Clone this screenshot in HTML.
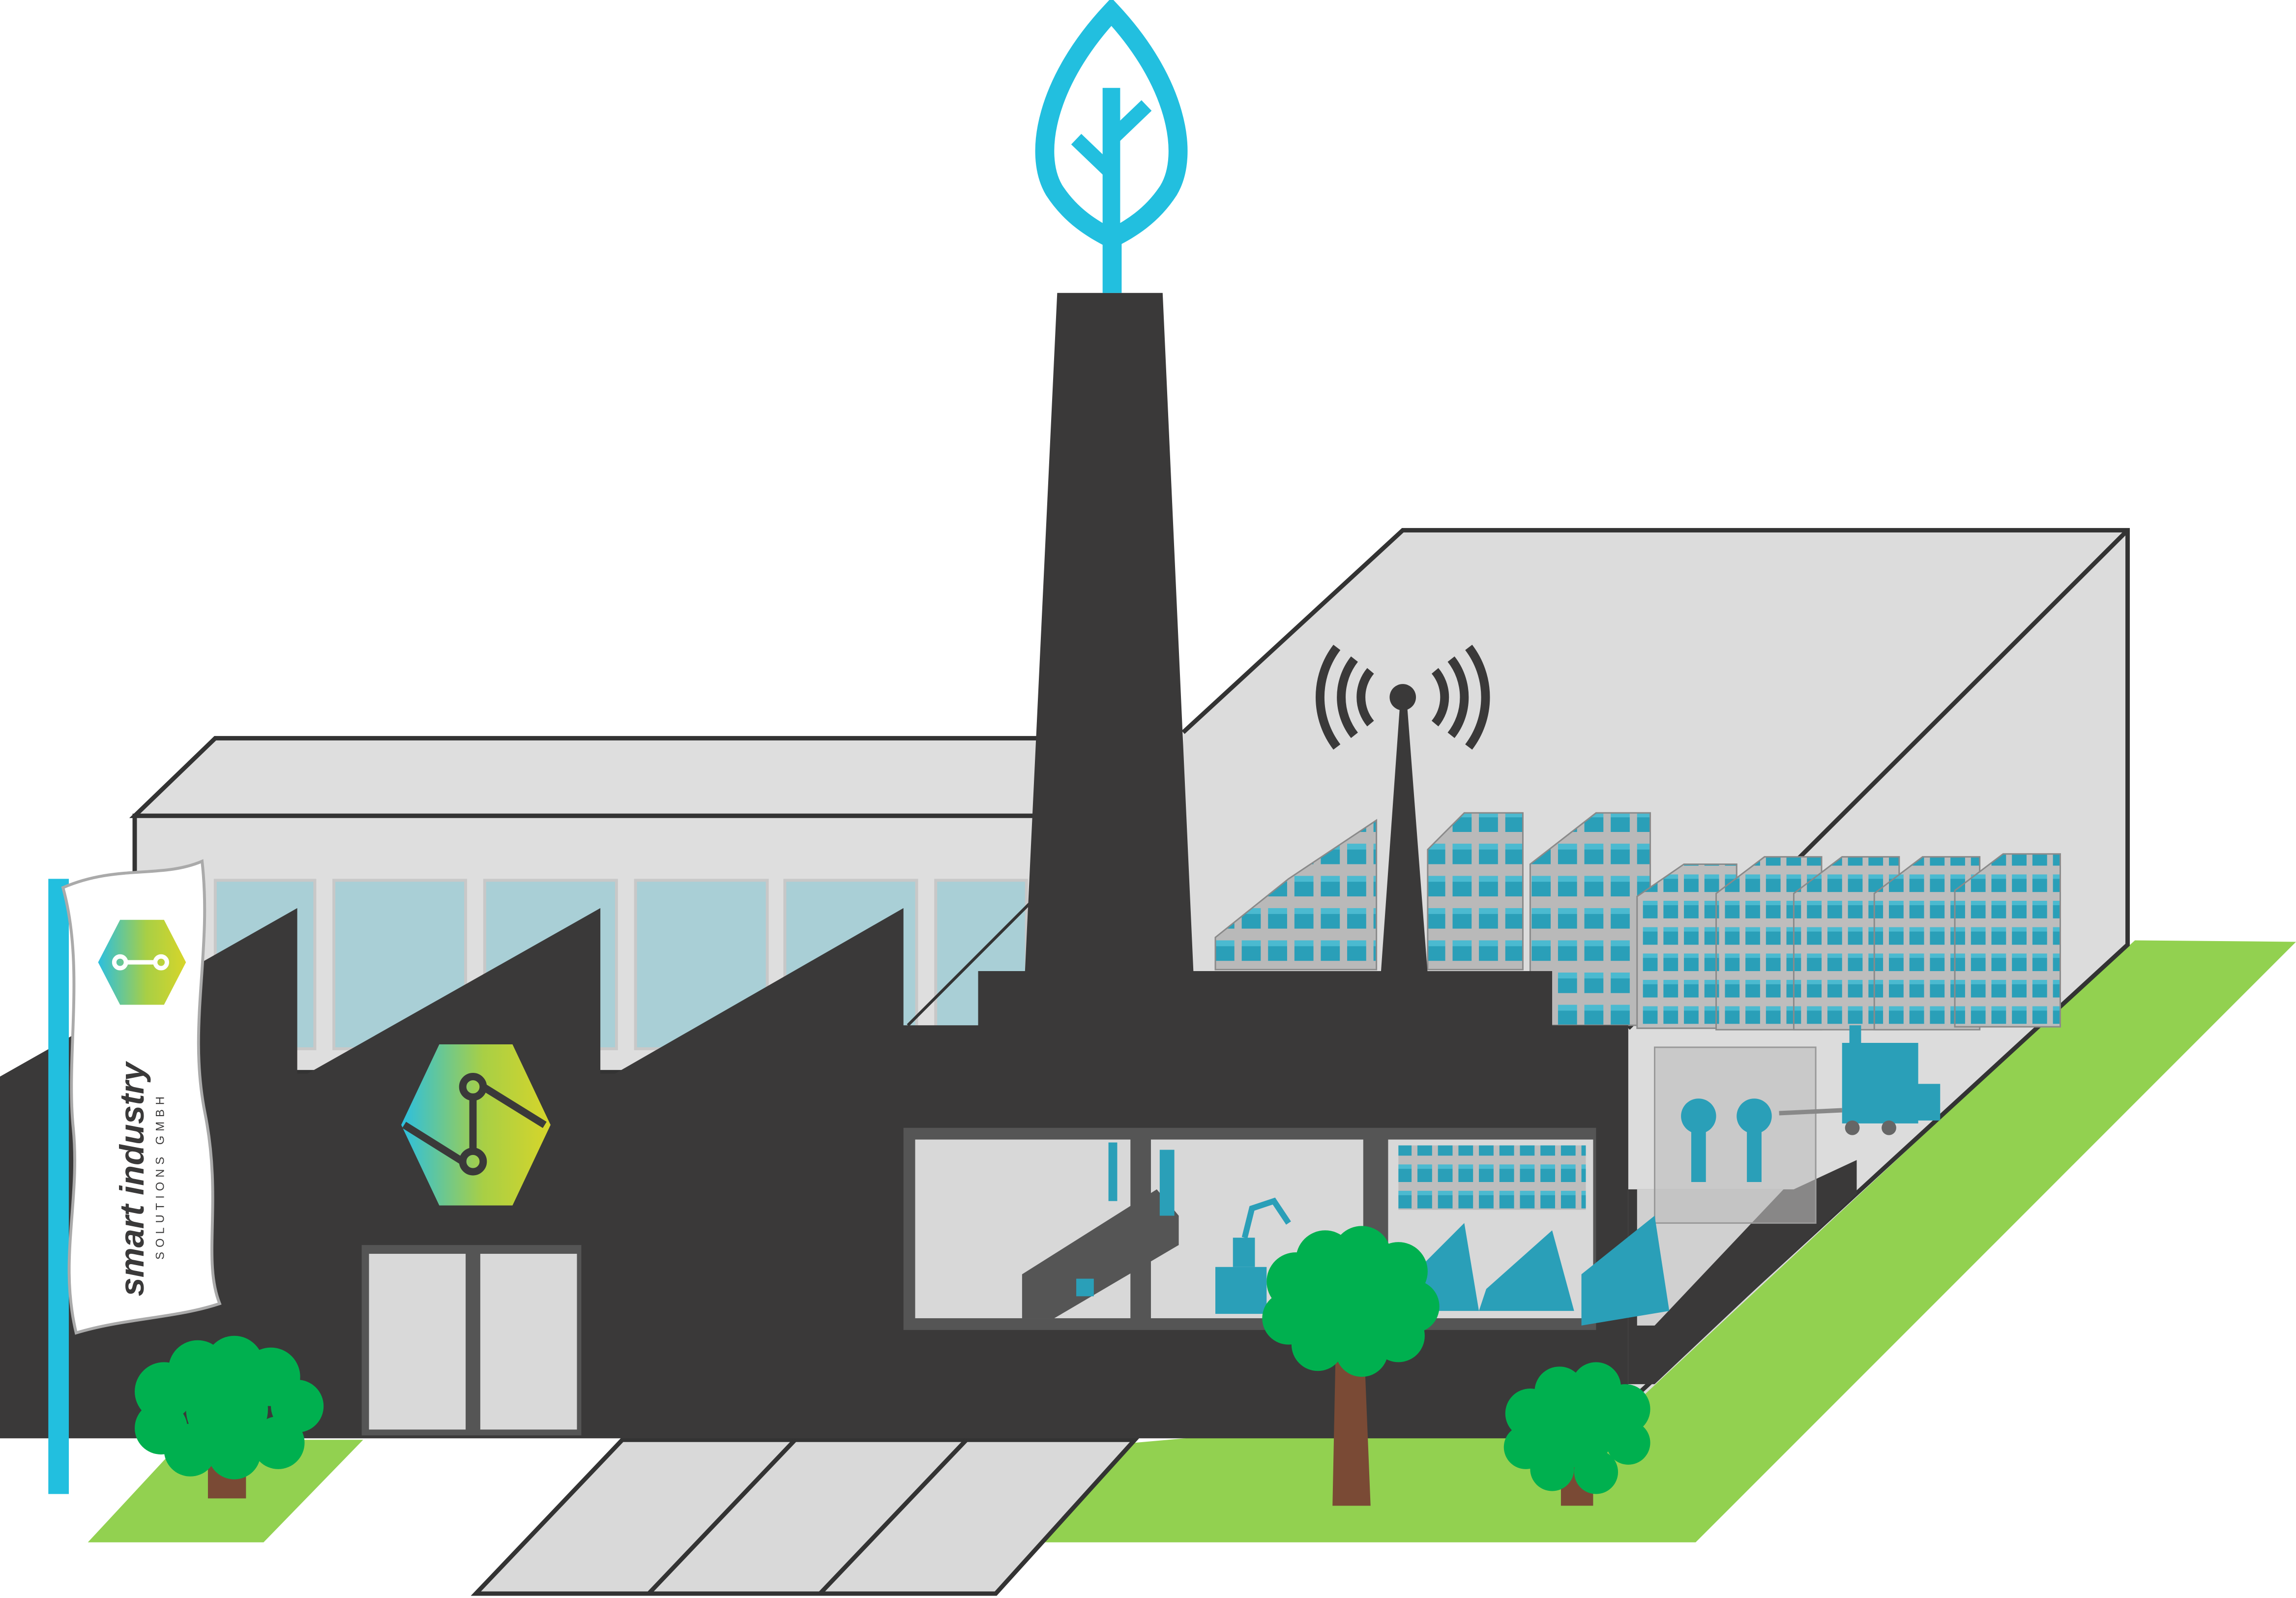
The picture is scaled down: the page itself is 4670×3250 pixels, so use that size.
<!DOCTYPE html>
<html><head><meta charset="utf-8"><style>
html,body{margin:0;padding:0;background:#fff;}
svg{display:block;}
</style></head><body>
<svg width="4670" height="3250" viewBox="0 0 1568 1091" xmlns="http://www.w3.org/2000/svg" preserveAspectRatio="none">
<defs>
<linearGradient id="hx" x1="0" y1="0" x2="1" y2="0">
<stop offset="0" stop-color="#2bbfe0"/><stop offset="0.55" stop-color="#a8cf45"/><stop offset="1" stop-color="#d7d52a"/>
</linearGradient>
<pattern id="blk" width="18" height="22" patternUnits="userSpaceOnUse">
<rect width="18" height="22" fill="#b9b9b9"/>
<rect x="2" y="4" width="13" height="14" fill="#2a9fb8"/>
<rect x="2" y="4" width="13" height="4" fill="#4bbad0"/>
</pattern>
<pattern id="blk2" width="14" height="18" patternUnits="userSpaceOnUse">
<rect width="14" height="18" fill="#bdbdbd"/>
<rect x="2" y="3" width="10" height="12" fill="#2a9fb8"/>
<rect x="2" y="3" width="10" height="3" fill="#4bbad0"/>
</pattern>
</defs>
<!-- grass -->
<polygon points="710,1053 1158,1053 1568,643 1458,642 1112,955 775,985" fill="#92d150"/>
<polygon points="60,1053 180,1053 248,983 125,983" fill="#92d150"/>
<!-- path -->
<polygon points="325,1088 680,1088 775,983 425,983" fill="#d9d9d9" stroke="#333" stroke-width="3"/>
<line x1="543" y1="983" x2="443" y2="1088" stroke="#333" stroke-width="3"/>
<line x1="660" y1="983" x2="560" y2="1088" stroke="#333" stroke-width="3"/>
<!-- warehouse -->
<polygon points="808,500 958,362 1453,362 1453,645 1120,955 1110,955 1110,700 808,700" fill="#dcdcdc"/>
<g stroke="#333" stroke-width="3" fill="none">
<polyline points="808,500 958,362 1453,362 1453,645 1115,955"/>
<line x1="1453" y1="362" x2="1112" y2="702"/>
</g>
<!-- floor inner -->
<polygon points="1112,812 1225,812 1268,792 1268,815 1130,945 1112,945" fill="#3a3939"/>
<polygon points="1118,812 1218,812 1130,905 1118,905" fill="#d0d0d0"/>
<!-- shelves -->
<g stroke="#8a8a8a" stroke-width="1">
<polygon points="830,640 880,600 940,560 940,662 830,662" fill="url(#blk)"/>
<polygon points="975,580 1000,555 1040,555 1040,662 975,662" fill="url(#blk)"/>
<polygon points="1045,590 1090,555 1127,555 1127,700 1045,700" fill="url(#blk)"/>
<polygon points="1118,612 1150,590 1186,590 1186,702 1118,702" fill="url(#blk2)"/>
<polygon points="1172,610 1205,585 1244,585 1244,703 1172,703" fill="url(#blk2)"/>
<polygon points="1225,610 1258,585 1297,585 1297,703 1225,703" fill="url(#blk2)"/>
<polygon points="1280,610 1313,585 1352,585 1352,703 1280,703" fill="url(#blk2)"/>
<polygon points="1335,608 1368,583 1407,583 1407,701 1335,701" fill="url(#blk2)"/>
</g>
<!-- machines in warehouse -->
<rect x="1130" y="715" width="110" height="120" fill="#bdbdbd" fill-opacity="0.6" stroke="#999"/>
<circle cx="1160" cy="762" r="12" fill="#2a9fb8"/><rect x="1155" y="772" width="10" height="35" fill="#2a9fb8"/>
<circle cx="1198" cy="762" r="12" fill="#2a9fb8"/><rect x="1193" y="772" width="10" height="35" fill="#2a9fb8"/>
<!-- forklift -->
<rect x="1258" y="712" width="52" height="55" fill="#2a9fb8"/><rect x="1300" y="740" width="25" height="25" fill="#2a9fb8"/>
<rect x="1263" y="700" width="8" height="15" fill="#2a9fb8"/>
<line x1="1215" y1="760" x2="1258" y2="758" stroke="#888" stroke-width="3"/>
<circle cx="1265" cy="770" r="5" fill="#666"/><circle cx="1290" cy="770" r="5" fill="#666"/>
<!-- left building -->
<polygon points="92,557 147,504 720,504 720,557" fill="#dedede" stroke="#333" stroke-width="3"/>
<rect x="92" y="557" width="628" height="175" fill="#dedede" stroke="#333" stroke-width="3"/>
<g fill="#a9cfd6" stroke="#c8c8c8" stroke-width="2">
<rect x="147" y="601" width="68" height="115"/><rect x="228" y="601" width="90" height="115"/><rect x="331" y="601" width="90" height="115"/><rect x="434" y="601" width="90" height="115"/><rect x="536" y="601" width="90" height="115"/><rect x="639" y="601" width="62" height="115"/>
</g>
<line x1="620" y1="700" x2="710" y2="610" stroke="#333" stroke-width="2"/>
<!-- dark factory -->
<polygon fill="#3a3939" points="0,735 203,620 203,733 210,733 410,620 410,733 420,733 617,620 617,700 668,700 668,663 700,663 722,200 794,200 815,663 1060,663 1060,700 1112,700 1112,982 0,982"/>
<!-- antenna -->
<polygon points="943,665 956,482 961,482 975,665" fill="#3a3939"/>
<circle cx="958" cy="476" r="9" fill="#3a3939"/>
<g fill="none" stroke="#3a3939" stroke-width="6">
<path d="M936,494 A28,28 0 0,1 936,458"/><path d="M980,494 A28,28 0 0,0 980,458"/>
<path d="M925,502 A42,42 0 0,1 925,450"/><path d="M991,502 A42,42 0 0,0 991,450"/>
<path d="M913,510 A56,56 0 0,1 913,442"/><path d="M1003,510 A56,56 0 0,0 1003,442"/>
</g>
<!-- leaf -->
<rect x="753" y="158" width="13" height="42" fill="#22bfdf"/>
<path d="M759,8 C715,55 705,105 720,130 C733,150 750,158 759,163 C768,158 785,150 798,130 C813,105 803,55 759,8 Z" fill="none" stroke="#22bfdf" stroke-width="13"/>
<line x1="759" y1="60" x2="759" y2="160" stroke="#22bfdf" stroke-width="12"/>
<line x1="759" y1="118" x2="735" y2="95" stroke="#22bfdf" stroke-width="10"/>
<line x1="759" y1="95" x2="783" y2="72" stroke="#22bfdf" stroke-width="10"/>
<!-- hexagon logo -->
<polygon points="300,713 350,713 376,768 350,823 300,823 274,768" fill="url(#hx)"/>
<g stroke="#3a3939" stroke-width="5" fill="none"><circle cx="323" cy="742" r="7"/><circle cx="323" cy="793" r="7"/><line x1="323" y1="749" x2="323" y2="786"/><line x1="330" y1="742" x2="372" y2="768"/><line x1="316" y1="793" x2="276" y2="768"/></g>
<!-- door -->
<rect x="247" y="850" width="150" height="130" fill="#555"/>
<rect x="252" y="856" width="66" height="120" fill="#d9d9d9"/><rect x="328" y="856" width="66" height="120" fill="#d9d9d9"/>
<!-- factory windows -->
<rect x="617" y="770" width="473" height="138" fill="#555"/>
<rect x="625" y="778" width="147" height="122" fill="#d8d8d8"/>
<rect x="786" y="778" width="145" height="122" fill="#d8d8d8"/>
<rect x="948" y="778" width="140" height="122" fill="#d8d8d8"/>
<polygon points="698,870 790,812 805,830 805,850 720,900 698,900" fill="#555"/>
<rect x="735" y="873" width="12" height="12" fill="#2a9fb8"/>
<rect x="757" y="780" width="6" height="40" fill="#2a9fb8"/>
<rect x="792" y="785" width="10" height="45" fill="#2a9fb8"/>
<rect x="830" y="865" width="35" height="32" fill="#2a9fb8"/><rect x="842" y="845" width="15" height="20" fill="#2a9fb8"/>
<path d="M850,845 L855,825 L870,820 L880,835" stroke="#2a9fb8" stroke-width="4" fill="none"/>
<rect x="955" y="782" width="128" height="44" fill="url(#blk2)"/>
<polygon points="965,870 1000,835 1010,895 965,895" fill="#2a9fb8"/><polygon points="1015,880 1060,840 1075,895 1010,895" fill="#2a9fb8"/><polygon points="1080,870 1130,830 1140,895 1080,905" fill="#2a9fb8"/>
<!-- flag -->
<rect x="33" y="600" width="14" height="420" fill="#22bfdf"/>
<path d="M43,606 C80,590 110,600 138,588 C145,650 128,700 140,760 C152,820 138,860 150,890 C120,900 85,900 52,910 C40,860 55,820 50,770 C45,720 58,660 43,606 Z" fill="#fff" stroke="#aaa" stroke-width="2"/>
<polygon points="82,628 112,628 127,657 112,686 82,686 67,657" fill="url(#hx)"/>
<g stroke="#fff" stroke-width="3" fill="none"><circle cx="82" cy="657" r="4"/><circle cx="110" cy="657" r="4"/><line x1="86" y1="657" x2="106" y2="657"/></g>
<text transform="translate(98,885) rotate(-90)" font-family="Liberation Sans, sans-serif" font-size="23" font-weight="bold" font-style="italic" fill="#3a3939">smart industry</text>
<text transform="translate(112,860) rotate(-90)" font-family="Liberation Sans, sans-serif" font-size="8" letter-spacing="3" fill="#3a3939">SOLUTIONS GMBH</text>
<!-- trees -->
<rect x="142" y="990" width="26" height="33" fill="#7a4a35"/>
<g fill="#00b04f"><circle cx="112" cy="950" r="20"/><circle cx="135" cy="935" r="20"/><circle cx="160" cy="932" r="20"/><circle cx="185" cy="940" r="20"/><circle cx="203" cy="960" r="18"/><circle cx="110" cy="975" r="18"/><circle cx="130" cy="990" r="18"/><circle cx="160" cy="992" r="18"/><circle cx="190" cy="985" r="18"/><circle cx="155" cy="962" r="28"/></g>
<polygon points="912,930 932,930 936,1028 910,1028" fill="#7a4a35"/>
<g fill="#00b04f"><circle cx="885" cy="875" r="20"/><circle cx="905" cy="860" r="20"/><circle cx="930" cy="857" r="20"/><circle cx="955" cy="868" r="20"/><circle cx="965" cy="892" r="18"/><circle cx="880" cy="900" r="18"/><circle cx="900" cy="918" r="18"/><circle cx="930" cy="922" r="18"/><circle cx="955" cy="912" r="18"/><circle cx="922" cy="890" r="28"/></g>
<rect x="1066" y="990" width="22" height="38" fill="#7a4a35"/>
<g fill="#00b04f"><circle cx="1045" cy="965" r="17"/><circle cx="1065" cy="950" r="17"/><circle cx="1090" cy="947" r="17"/><circle cx="1110" cy="962" r="17"/><circle cx="1112" cy="985" r="15"/><circle cx="1042" cy="988" r="15"/><circle cx="1060" cy="1003" r="15"/><circle cx="1090" cy="1005" r="15"/><circle cx="1078" cy="978" r="24"/></g>
</svg>
</body></html>
